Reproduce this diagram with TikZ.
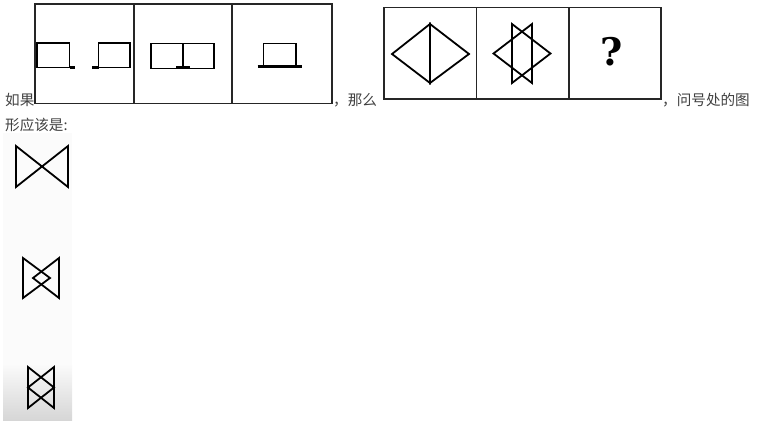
\documentclass[tikz,border=0pt]{standalone}
\usepackage{fontspec}
\setmainfont{Liberation Serif}
\newfontfamily\cjk{Noto Sans CJK SC}
\newfontfamily\qfont{DejaVu Serif}
\begin{document}
\begin{tikzpicture}[x=1bp,y=-1bp,
  frame/.style={draw=black!85,line width=1.1bp},
  fig/.style={draw=black,line width=1.8bp,line join=miter},
  foot/.style={draw=black,line width=3bp},
  txt/.style={anchor=base west,inner sep=0pt,text=black!75,font=\cjk\fontsize{14.6bp}{16bp}\selectfont}]
\useasboundingbox (0,0) rectangle (760,424);
% faint background of answer column
\fill[black!1.5] (3,133) rectangle (72,365);
\shade[top color=black!2,bottom color=black!16] (3,365) rectangle (72,420);

% ---------- left strip ----------
\draw[frame] (35,4) rectangle (332,103.3);
\draw[frame] (134,4) -- (134,103.3);
\draw[frame] (232,4) -- (232,103.3);
% panel 1
\draw[fig] (37,67.5) -- (37,43) -- (69.5,43) -- (69.5,67.5) -- cycle;
\draw[foot] (69.5,67.5) -- (75,67.5);
\draw[fig] (98.5,67.5) -- (98.5,43) -- (130,43) -- (130,67.5) -- cycle;
\draw[foot] (92,67.5) -- (98.5,67.5);
% panel 2
\draw[fig] (151,43.5) rectangle (214,68.5);
\draw[fig] (182.7,43.5) -- (182.7,68.5);
\draw[foot] (176,67.8) -- (190,67.8);
% panel 3
\draw[fig] (263.5,66.5) -- (263.5,43.5) -- (296,43.5) -- (296,66.5) -- cycle;
\draw[foot] (257.5,66.5) -- (301.5,66.5);

% ---------- right strip ----------
\draw[frame] (384,7.3) rectangle (661,99);
\draw[frame] (476.5,7.3) -- (476.5,99);
\draw[frame] (569,7.3) -- (569,99);
% panel 1
\draw[fig] (392,54) -- (430,24) -- (430,83) -- cycle;
\draw[fig] (469,54) -- (430,24) -- (430,83) -- cycle;
% panel 2
\draw[fig] (493.5,53.5) -- (532,24) -- (532,83) -- cycle;
\draw[fig] (550.5,53.5) -- (512,24) -- (512,83) -- cycle;
% panel 3
\node[inner sep=0pt,font=\qfont\bfseries\fontsize{38bp}{42bp}\selectfont] (qm) at (612,51.5) {?};

% ---------- text ----------
\node[txt] (t1) at (5,105) {如果};
\node[txt] (t2) at (333,105) {，那么};
\node[txt] (t3) at (662,105) {，问号处的图};
\node[txt] (t4) at (5,130) {形应该是:};

% ---------- options ----------
\draw[fig] (16,146) -- (16,187) -- (68,146) -- (68,187) -- cycle;
\draw[fig] (23,258) -- (23,298) -- (50,278) -- cycle;
\draw[fig] (59,258) -- (59,298) -- (33,278) -- cycle;
\draw[fig] (28,367) -- (28,408) -- (54,387.5) -- cycle;
\draw[fig] (54,367) -- (54,408) -- (28,387.5) -- cycle;
\end{tikzpicture}
\end{document}
